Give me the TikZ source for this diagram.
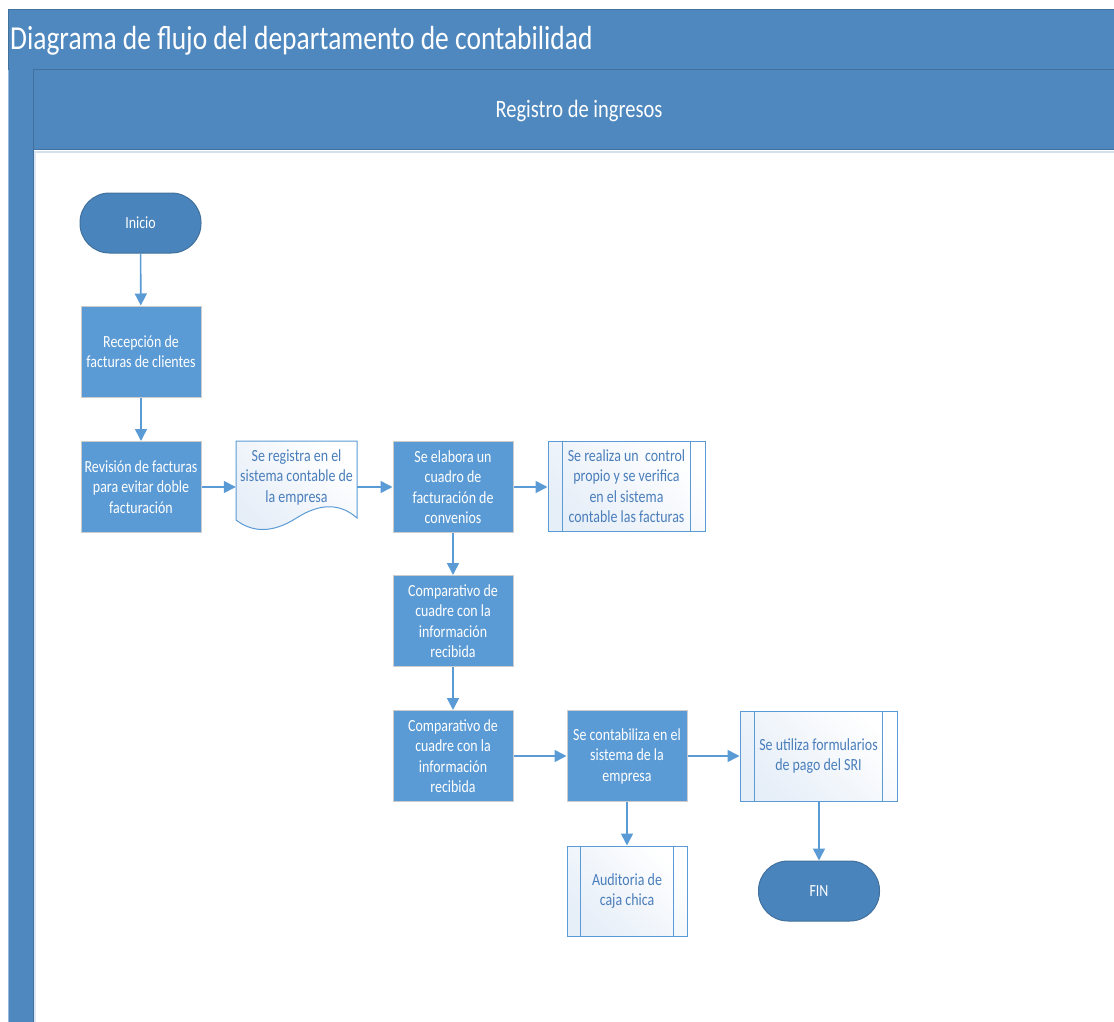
\documentclass[tikz,border=0pt]{standalone}
\usepackage{fontspec}
\setmainfont{Carlito}[FakeStretch=0.82]
\usetikzlibrary{arrows.meta}
\definecolor{band}{HTML}{4F88BE}
\definecolor{bandline}{HTML}{41719C}
\definecolor{proc}{HTML}{5B9BD5}
\definecolor{term}{HTML}{4A84BC}
\definecolor{txtblue}{HTML}{4A7EBB}
\definecolor{lightfill}{HTML}{E6EEF8}
\newcommand{\boxfont}{\fontsize{17}{20.5}\selectfont}
\tikzset{
  procbox/.style={draw=gray!40, line width=1pt, fill=proc, text=white, minimum width=120pt, minimum height=91pt, align=center, font=\boxfont, inner sep=1pt},
  termbox/.style={rectangle, rounded corners=29.5pt, draw=bandline, line width=1pt, fill=term, text=white, minimum width=121pt, minimum height=60pt, font=\boxfont, align=center},
  predef/.style={draw=proc, line width=1pt, top color=lightfill, bottom color=white, shading angle=135, text=txtblue, minimum height=90pt, align=center, font=\boxfont, inner sep=1pt},
  plain/.style={text=txtblue, align=center, font=\boxfont, inner sep=1pt},
  flow/.style={draw=proc, line width=1.6pt, -{Triangle[length=12pt,width=12pt]}},
}
\begin{document}
\begin{tikzpicture}[x=1pt,y=-1pt]
\useasboundingbox (0,0) rectangle (1114,1022);
% pool header
\fill[band] (8,10) rectangle (1114,70);
\draw[bandline, line width=1pt] (8,10) -- (1114,10);
\draw[bandline, line width=1pt] (8,10) -- (8,70);
\node[anchor=west, text=white, font=\fontsize{33.5}{38}\selectfont, inner sep=0pt] (title) at (10,41) {Diagrama de flujo del departamento de contabilidad};
% lane header
\fill[band] (33,70) rectangle (1114,150);
\draw[bandline, line width=1pt] (33,70) -- (1114,70);
\draw[bandline, line width=1pt] (33,150) -- (1114,150);
\fill[band!25] (34,151) rectangle (1114,153);
\node[text=white, font=\fontsize{25}{29}\selectfont, inner sep=0pt] (lane) at (579,111) {Registro de ingresos};
% left strip
\fill[band] (8,70) rectangle (33,1022);
\draw[band!60, line width=1pt] (8,70) -- (8,1022);
\draw[bandline, line width=1pt] (33,70) -- (33,1022);
\fill[band!20] (34,153) rectangle (36,1022);

% nodes
\node[termbox] (ini) at (140.5,223) {Inicio};
\node[procbox] (rec) at (141,351.5) {Recepción de\\facturas de clientes};
\node[procbox] (rev) at (141,487) {Revisión de facturas\\para evitar doble\\facturación};
% document shape
\node[minimum width=121pt, minimum height=91pt, inner sep=0pt] (doc) at (296.5,487) {};
\shade[top color=lightfill, bottom color=white, shading angle=135, draw=proc, line width=1pt]
  (236,441) -- (357,441) -- (357,518)
  .. controls (340,503) and (320,503) .. (296.5,518)
  .. controls (273,533) and (253,533) .. (236,520) -- cycle;
\node[plain] (doctext) at (296.5,477) {Se registra en el\\sistema contable de\\la empresa};
\node[procbox] (ela) at (453,487) {Se elabora un\\cuadro de\\facturación de\\convenios};
\node[predef, minimum width=157pt] (ctl) at (626.5,486) {Se realiza un\ \ control\\propio y se verifica\\en el sistema\\contable las facturas};
\draw[proc, line width=1pt] ([xshift=15pt]ctl.north west) -- ([xshift=15pt]ctl.south west);
\draw[proc, line width=1pt] ([xshift=-15pt]ctl.north east) -- ([xshift=-15pt]ctl.south east);
\node[procbox] (cmp1) at (453,621) {Comparativo de\\cuadre con la\\información\\recibida};
\node[procbox] (cmp2) at (453,756) {Comparativo de\\cuadre con la\\información\\recibida};
\node[procbox] (con) at (627,756) {Se contabiliza en el\\sistema de la\\empresa};
\node[predef, minimum width=157pt] (frm) at (818.5,756) {Se utiliza formularios\\de pago del SRI};
\draw[proc, line width=1pt] ([xshift=15pt]frm.north west) -- ([xshift=15pt]frm.south west);
\draw[proc, line width=1pt] ([xshift=-15pt]frm.north east) -- ([xshift=-15pt]frm.south east);
\node[predef, minimum width=120pt] (aud) at (627,891) {Auditoria de\\caja chica};
\draw[proc, line width=1pt] ([xshift=14pt]aud.north west) -- ([xshift=14pt]aud.south west);
\draw[proc, line width=1pt] ([xshift=-14pt]aud.north east) -- ([xshift=-14pt]aud.south east);
\node[termbox] (fin) at (819,891) {FIN};

% connectors
\draw[flow] (ini) -- (rec);
\draw[flow] (rec) -- (rev);
\draw[flow] (rev.east) -- (rev.east -| doc.west);
\draw[flow] (doc.east |- ela.west) -- (ela.west);
\draw[flow] (ela.east) -- (ela.east -| ctl.west);
\draw[flow] (ela) -- (cmp1);
\draw[flow] (cmp1) -- (cmp2);
\draw[flow] (cmp2) -- (con);
\draw[flow] (con) -- (frm);
\draw[flow] (con) -- (aud);
\draw[flow] (frm.south -| fin.north) -- (fin.north);
\end{tikzpicture}
\end{document}
